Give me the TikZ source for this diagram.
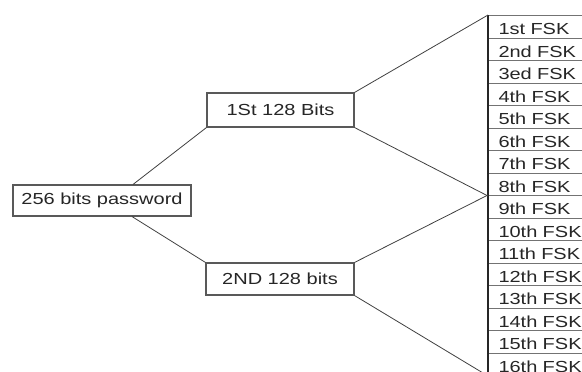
\documentclass[tikz,border=0pt]{standalone}
\usepackage{fontspec}
\setmainfont[FakeStretch=1.25]{Liberation Sans}
\begin{document}
\begin{tikzpicture}[x=1pt, y=-1pt,
  box/.style={draw=black!65, line width=1.1pt, fill=white, inner sep=0pt,
    font=\fontsize{16}{18}\selectfont, text=black!85},
  fsk/.style={draw=black!55, line width=1pt, inner xsep=10pt, inner ysep=0pt,
    text width=100pt, minimum height=22.5pt, text height=16pt, text depth=0pt,
    anchor=north west, font=\fontsize{16}{18}\selectfont, text=black!85},
  wire/.style={draw=black!75, line width=0.8pt}]
\useasboundingbox (0,0) rectangle (582,372);
\clip (0,0) rectangle (582,372);

% column of sixteen FSK slots
\foreach \t [count=\i] in {1st,2nd,3ed,4th,5th,6th,7th,8th,9th,10th,11th,12th,13th,14th,15th,16th}
  \node[fsk] (f\i) at (488, {15+22.5*(\i-1)}) {\t\ FSK};
\draw[black!85, line width=1.4pt] (f1.north west) -- (f16.south west);

% password and its two halves
\node[box, minimum width=178pt, minimum height=31pt] (pw) at (102,200.5) {256 bits password};
\node[box, minimum width=147pt, minimum height=34pt] (b1) at (280.5,110) {1St 128 Bits};
\node[box, minimum width=148pt, minimum height=32pt] (b2) at (280,279) {2ND 128 bits};

% connectors
\coordinate (pwt) at ([xshift=31pt]pw.north);
\coordinate (pwb) at ([xshift=30pt]pw.south);
\draw[wire] (pwt) -- (b1.south west);
\draw[wire] (pwb) -- (b2.north west);
\draw[wire] (b1.north east) -- (f1.north west);
\draw[wire] (b1.south east) -- (f8.south west);
\draw[wire] (b2.north east) -- (f9.north west);
\draw[wire] (b2.south east) -- (f16.south west);
\end{tikzpicture}
\end{document}
